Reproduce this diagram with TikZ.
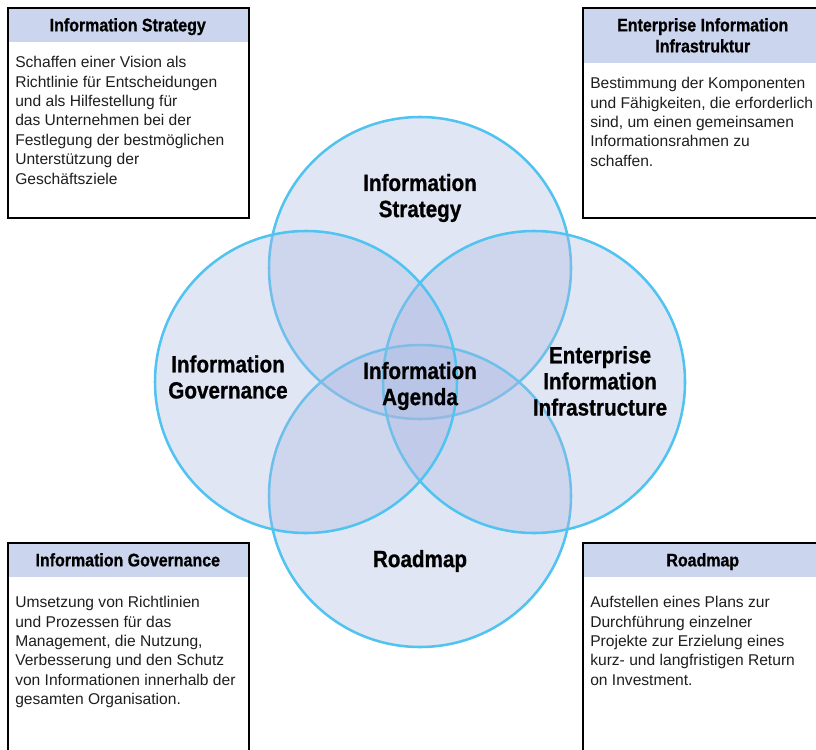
\documentclass[tikz,border=0pt]{standalone}
\usepackage{fontspec}
\setmainfont{Liberation Sans}
\newfontfamily\titre{Liberation Sans}[FakeStretch=0.88,FakeBold=0.8]
\usetikzlibrary{positioning}
\definecolor{bleuclair}{RGB}{80,195,240}
\definecolor{lavande}{RGB}{170,184,224}
\definecolor{fondtitre}{RGB}{204,213,238}
\definecolor{texte}{RGB}{30,30,30}

\begin{document}
\begin{tikzpicture}[x=0.75pt,y=-0.75pt,
  cercle/.style={circle,minimum size=226.5pt,inner sep=0pt,draw=bleuclair,line width=1.9pt,fill=lavande,fill opacity=0.35},
  etiquette/.style={align=center,font=\titre\bfseries\fontsize{17.6}{19.6}\selectfont},
  cadre/.style={draw=black,line width=1.5pt,minimum width=180.75pt,minimum height=157.5pt,inner sep=0pt,anchor=north west},
  entete/.style={fill=fondtitre,minimum width=180.75pt,minimum height=26.25pt,inner sep=0pt,text depth=0pt,anchor=north west,align=center,font=\titre\bfseries\fontsize{13.6}{15.75}\selectfont},
  corps/.style={anchor=north west,inner sep=0pt,align=left,text=texte,font=\fontsize{11.7}{14.6}\selectfont}]
\useasboundingbox (0,0) rectangle (816,749);
\clip (0,0) rectangle (816,749);
% ordre : haut, bas, droite, gauche
\node[cercle] (strategie) at (420,268) {};
\node[cercle] (roadmap) at (420,496) {};
\node[cercle] (infra) at (534,382) {};
\node[cercle] (gouv) at (306,382) {};
\node[etiquette] (tStrat) at (420,198) {Information\\Strategy};
\node[etiquette] (tGouv) at (228,377) {Information\\Governance};
\node[etiquette] (tAgenda) at (420,386) {Information\\Agenda};
\node[etiquette] (tInfra) at (600,381) {Enterprise\\Information\\Infrastructure};
\node[etiquette] (tRoad) at (420,561) {Roadmap};
% les quatre encadrés (coin haut gauche en px)
\node[entete] (hStrat) at (7,7) {Information Strategy};
\node[cadre] (bStrat) at (7,7) {};
\node[corps] (cStrat) at (15,56) {Schaffen einer Vision als\\Richtlinie für Entscheidungen\\und als Hilfestellung für\\das Unternehmen bei der\\Festlegung der bestmöglichen\\Unterstützung der\\Geschäftsziele};
\node[entete,minimum height=42pt] (hInfra) at (582,7) {Enterprise Information\\Infrastruktur};
\node[cadre] (bInfra) at (582,7) {};
\node[corps] (cInfra) at (590,77) {Bestimmung der Komponenten\\und Fähigkeiten, die erforderlich\\sind, um einen gemeinsamen\\Informationsrahmen zu\\schaffen.};
\node[entete] (hGouv) at (7,542) {Information Governance};
\node[cadre] (bGouv) at (7,542) {};
\node[corps] (cGouv) at (15,596) {Umsetzung von Richtlinien\\und Prozessen für das\\Management, die Nutzung,\\Verbesserung und den Schutz\\von Informationen innerhalb der\\gesamten Organisation.};
\node[entete] (hRoad) at (582,542) {Roadmap};
\node[cadre] (bRoad) at (582,542) {};
\node[corps] (cRoad) at (590,596) {Aufstellen eines Plans zur\\Durchführung einzelner\\Projekte zur Erzielung eines\\kurz- und langfristigen Return\\on Investment.};
\end{tikzpicture}
\end{document}
